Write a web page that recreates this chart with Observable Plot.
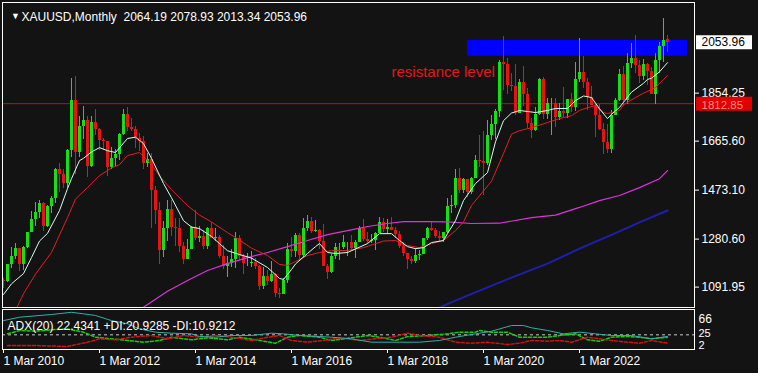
<!DOCTYPE html>
<html><head><meta charset="utf-8">
<script src="https://cdn.jsdelivr.net/npm/d3@7"></script>
<script src="https://cdn.jsdelivr.net/npm/@observablehq/plot@0.6"></script>
<style>
html,body{margin:0;padding:0;background:#131313;}
#chart{position:relative;width:758px;height:373px;background:#131313;overflow:hidden;}
#chart svg{position:absolute;left:0;}
</style></head><body><div id="chart"></div>
<script>
// ---------- DATA ----------
const symbolLabel = "XAUUSD,Monthly";
const firstMonth = "2010-03";
// Monthly candles Mar 2010 .. Jan 2024
const open = [1118,1113,1179,1213,1244,1181,1247,1307,1359,1386,
1421,1332,1409,1439,1556,1536,1500,1628,1826,1620,1722,1746,
1566,1738,1710,1669,1664,1561,1598,1615,1692,1772,1720,1713,
1675,1663,1578,1595,1472,1393,1234,1323,1396,1327,1323,1253,
1202,1240,1326,1284,1291,1250,1322,1283,1287,1211,1172,1183,
1199,1283,1213,1183,1183,1190,1172,1095,1133,1115,1142,1065,
1061,1118,1238,1233,1293,1215,1322,1351,1309,1316,1272,1173,
1151,1211,1249,1249,1268,1268,1242,1269,1322,1280,1271,1275,
1303,1345,1318,1325,1315,1299,1252,1224,1201,1192,1215,1222,
1282,1321,1313,1292,1283,1305,1409,1413,1520,1472,1513,1464,
1517,1589,1585,1577,1686,1730,1781,1975,1968,1886,1879,1776,
1895,1848,1734,1708,1769,1907,1770,1814,1814,1757,1783,1774,
1829,1797,1909,1937,1897,1837,1807,1766,1711,1660,1633,1768,
1824,1928,1827,1969,1990,1962,1919,1965,1940,1849,1983,2036,
2064.19];
const high = [1127,1181,1249,1265,1245,1250,1307,1388,1424,1431,
1424,1411,1448,1557,1577,1553,1632,1911,1920,1761,1803,1763,
1764,1791,1716,1677,1666,1641,1631,1695,1790,1796,1755,1724,
1695,1685,1617,1617,1488,1424,1348,1434,1434,1361,1361,1267,
1280,1332,1392,1331,1315,1326,1345,1323,1293,1256,1213,1238,
1307,1293,1219,1224,1232,1205,1175,1170,1157,1191,1144,1088,
1124,1263,1287,1304,1303,1362,1375,1367,1352,1318,1337,1180,
1220,1264,1262,1296,1269,1296,1274,1331,1357,1306,1299,1307,
1366,1362,1356,1366,1326,1309,1266,1224,1214,1243,1237,1284,
1326,1347,1324,1310,1306,1439,1453,1555,1557,1517,1516,1524,
1611,1689,1704,1748,1765,1789,1984,2075,1992,1933,1965,1906,
1959,1873,1755,1798,1913,1916,1834,1832,1834,1814,1877,1831,
1853,1974,2070,1998,1910,1879,1814,1808,1735,1730,1786,1833,
1949,1959,2009,2049,2079,1984,1987,1970,1953,2009,2052,2146,
2078.93];
const low = [1088,1111,1166,1199,1155,1157,1242,1307,1331,1360,
1309,1325,1381,1419,1462,1478,1480,1601,1535,1603,1672,1523,
1563,1688,1627,1627,1527,1556,1565,1589,1686,1702,1705,1636,
1626,1555,1562,1321,1338,1180,1208,1270,1292,1251,1226,1182,
1202,1238,1277,1268,1240,1241,1282,1273,1206,1161,1131,1170,
1167,1197,1142,1174,1170,1162,1077,1081,1098,1112,1052,1046,
1061,1108,1207,1207,1199,1207,1310,1302,1305,1241,1171,1123,
1146,1200,1195,1241,1214,1237,1205,1267,1271,1261,1265,1237,
1302,1307,1303,1314,1282,1245,1211,1160,1180,1183,1196,1221,
1276,1311,1281,1266,1267,1301,1382,1400,1459,1459,1445,1454,
1517,1563,1451,1568,1670,1671,1757,1863,1849,1860,1765,1775,
1803,1717,1677,1705,1766,1751,1751,1688,1721,1746,1758,1753,
1780,1783,1895,1872,1787,1805,1681,1709,1615,1617,1617,1765,
1823,1804,1809,1950,1932,1893,1903,1885,1849,1810,1931,1973,
2013.34];
const close = [1113,1179,1213,1244,1181,1247,1307,1359,1386,1421,
1332,1409,1439,1556,1536,1500,1628,1826,1620,1722,1746,1566,
1738,1710,1669,1664,1561,1598,1615,1692,1772,1720,1713,1675,
1663,1578,1595,1472,1393,1234,1323,1396,1327,1323,1253,1202,
1240,1326,1284,1291,1250,1322,1283,1287,1211,1172,1183,1199,
1283,1213,1183,1183,1190,1172,1095,1133,1115,1142,1065,1061,
1118,1238,1233,1293,1215,1322,1351,1309,1316,1272,1173,1151,
1211,1249,1249,1268,1268,1242,1269,1322,1280,1271,1275,1303,
1345,1318,1325,1315,1299,1252,1224,1201,1192,1215,1222,1282,
1321,1313,1292,1283,1305,1409,1413,1520,1472,1513,1464,1517,
1589,1585,1577,1686,1730,1781,1975,1968,1886,1879,1776,1895,
1848,1734,1708,1769,1907,1770,1814,1814,1757,1783,1774,1829,
1797,1909,1937,1897,1837,1807,1766,1711,1660,1633,1768,1824,
1928,1827,1969,1990,1962,1919,1965,1940,1849,1983,2036,2063,
2053.96];

// Moving averages [month, price]
const maFast = [["2010-03",1063],["2010-05",1105],["2010-08",1145],["2010-10",1208],["2010-12",1273],
["2011-02",1303],["2011-05",1393],["2011-07",1479],["2011-08",1518],["2011-10",1589],["2011-11",1598],
["2012-01",1623],["2012-03",1640],["2012-05",1628],["2012-07",1621],["2012-10",1676],["2012-12",1681],
["2013-02",1656],["2013-04",1598],["2013-07",1499],["2013-09",1443],["2013-12",1353],
["2014-02",1328],["2014-04",1322],["2014-07",1291],["2014-11",1235],
["2015-02",1220],["2015-05",1206],["2015-09",1169],["2015-12",1126],
["2016-01",1122],["2016-03",1161],["2016-04",1183],["2016-07",1224],["2016-09",1251],["2016-10",1263],["2016-12",1228],
["2017-02",1224],["2017-05",1228],["2017-10",1263],
["2018-01",1302],["2018-04",1302],["2018-06",1275],["2018-08",1251],["2018-10",1243],["2018-12",1247],
["2019-02",1267],["2019-05",1275],["2019-06",1302],["2019-08",1353],["2019-10",1432],
["2020-01",1499],["2020-04",1542],["2020-06",1663],["2020-08",1746],["2020-10",1776],["2020-12",1786],
["2021-04",1778],["2021-07",1786],["2021-09",1794],["2021-12",1794],
["2022-02",1825],["2022-04",1843],["2022-06",1837],["2022-08",1793],["2022-10",1754],["2022-11",1771],
["2023-01",1798],["2023-02",1818],["2023-04",1858],["2023-07",1893],["2023-08",1908],["2023-09",1913],["2023-11",1938],
["2024-01",1974]];
const maSlow = [["2010-06",1000],["2010-08",1066],["2010-11",1143],["2011-03",1228],["2011-07",1365],["2011-09",1438],["2011-12",1483],
["2012-03",1530],["2012-06",1560],["2012-08",1573],["2012-10",1609],["2013-01",1621],["2013-04",1575],["2013-06",1528],["2013-09",1475],
["2014-01",1412],["2014-04",1375],["2014-07",1348],["2014-11",1306],["2015-02",1277],["2015-05",1245],["2015-09",1216],["2015-12",1181],
["2016-02",1177],["2016-04",1193],["2016-07",1216],["2016-10",1228],["2017-01",1235],["2017-05",1236],["2017-09",1247],
["2018-02",1273],["2018-05",1275],["2018-07",1258],["2018-11",1247],["2019-02",1263],["2019-05",1275],["2019-08",1314],["2019-10",1348],["2019-12",1413],
["2020-05",1508],["2020-08",1617],["2020-10",1693],["2020-12",1707],["2021-03",1718],["2021-07",1739],["2021-10",1754],
["2022-01",1766],["2022-03",1786],["2022-05",1797],["2022-07",1805],["2022-09",1778],["2022-10",1774],
["2023-01",1786],["2023-02",1808],["2023-05",1837],["2023-07",1854],["2023-10",1876],["2024-01",1923]];
const ma100 = [["2013-01",998],["2013-02",1013],["2013-08",1076],["2014-01",1118],["2014-06",1157],["2014-11",1184],
["2015-04",1208],["2015-09",1228],["2016-02",1251],["2016-07",1275],["2016-12",1298],["2017-05",1314],["2017-10",1330],
["2018-03",1342],["2018-07",1349],["2019-01",1349],["2019-06",1348],["2019-12",1342],["2020-07",1343],["2021-03",1365],
["2021-09",1375],["2022-03",1405],["2022-08",1432],["2023-01",1452],["2023-06",1483],["2023-11",1518],["2024-01",1550]];
const ma200 = [["2019-02",998],["2019-08",1039],["2020-02",1078],["2020-10",1129],["2021-07",1184],["2022-03",1243],
["2022-11",1297],["2023-06",1346],["2024-01",1393]];

// ADX(20) panel
const adxLabel = "ADX(20) 22.4341 +DI:20.9285 -DI:10.9212";
const adxValues = [["2010-03",49],["2010-07",54.7],["2011-03",59.3],["2011-08",63],["2011-11",60.4],["2012-02",57.6],["2012-06",49],
["2012-10",43.6],["2013-01",35],["2013-05",29.5],["2013-09",27.8],["2014-02",26.7],["2014-04",22.2],["2014-08",21],["2014-12",23.9],
["2015-05",23.9],["2015-10",27.8],["2016-01",26.7],["2016-05",23.9],["2016-10",22.2],["2017-01",21],["2017-06",18.3],["2017-11",12.6],
["2018-06",12.6],["2018-11",12.6],["2019-04",15.5],["2019-08",21],["2020-01",26.7],["2020-05",31.1],["2020-10",40.7],["2021-01",40.7],
["2021-03",36.9],["2021-07",32.3],["2021-11",26.7],["2022-03",29.5],["2022-07",26.7],["2022-11",23.9],["2023-04",23.9],["2023-09",18.3],["2024-01",22.4]];
const plusDi = [["2010-04",26.7],["2010-07",32.3],["2010-11",31.1],["2011-03",33.5],["2011-07",35],["2011-11",29.5],["2012-02",21],
["2012-06",18.3],["2012-10",15.5],["2013-02",12.6],["2013-06",15.5],["2013-09",21],["2014-02",16.6],["2014-06",20],["2014-11",16.6],
["2015-02",21],["2015-07",15.5],["2015-11",10.9],["2016-02",21],["2016-05",23.9],["2016-10",21],["2017-01",15.5],["2017-06",20],
["2017-10",23.9],["2018-01",21],["2018-05",15.5],["2018-08",22],["2019-01",23.9],["2019-06",26.7],["2019-09",29.5],["2020-01",29.5],
["2020-02",32.3],["2020-05",29.5],["2020-09",29.5],["2020-12",21],["2021-03",21],["2021-07",21],["2021-10",23.9],["2022-02",26.7],
["2022-05",16.6],["2022-08",14.3],["2022-11",21],["2023-03",22.2],["2023-06",21],["2023-09",18.3],["2024-01",20.9]];
const minusDi = [["2010-04",7],["2010-11",7],["2011-07",5.4],["2011-12",12.6],["2012-03",18.3],["2012-07",16.6],["2012-11",21],
["2013-04",23.9],["2013-08",18.3],["2013-12",23.9],["2014-04",21],["2014-08",23.9],["2014-12",21],["2015-05",15.5],["2015-09",21],
["2015-12",23.9],["2016-03",15.5],["2016-07",12.6],["2016-11",15.5],["2017-03",20],["2017-08",15.5],["2018-01",19],["2018-04",21],
["2018-08",27.8],["2018-11",23.9],["2019-04",21],["2019-08",12.6],["2019-12",10.9],["2020-04",12.6],["2020-09",8.7],["2020-12",10.9],
["2021-03",15.5],["2021-07",14.3],["2021-10",15.5],["2022-01",12.6],["2022-05",21],["2022-08",18.3],["2022-11",15.5],["2023-03",12.6],
["2023-06",10.9],["2023-09",15.5],["2024-01",10.9]];
const adxLevel = 25;
const adxScaleTop = 66, adxScaleBottom = 2;

// axes / annotations
const tickMonths = ["2010-03","2012-03","2014-03","2016-03","2018-03","2020-03","2022-03"];
const tickLabels = ["1 Mar 2010","1 Mar 2012","1 Mar 2014","1 Mar 2016","1 Mar 2018","1 Mar 2020","1 Mar 2022"];
const priceTicks = [1854.25, 1665.60, 1473.10, 1280.60, 1091.95];
const resistanceLine = 1812.85;
const zoneStart = "2019-11", zoneEnd = "2024-06", zoneLow = 1999, zoneHigh = 2061;
const annotationText = "resistance level", annotationMonth = "2018-04", annotationPrice = 1938;

// ---------- HELPERS ----------
const [fy, fm] = firstMonth.split("-").map(Number);
const mi = s => { const [y, m] = s.split("-").map(Number); return (y - fy) * 12 + (m - fm); };
const candles = open.map((o, i) => ({i, o, h: high[i], l: low[i], c: close[i]}));
const upC = candles.filter(d => d.c >= d.o), dnC = candles.filter(d => d.c < d.o);
const last = candles[candles.length - 1];
const ohlcText = [last.o, last.h, last.l, last.c].map(v => v.toFixed(2)).join(" ");

const GREEN = "#14e014", RED = "#e81414";
const FONT = "Liberation Sans, Arial, sans-serif";
const xDom = [-0.25, 172.75], xRange = [2, 694];
const pt = d => ({x: mi(d[0]), y: d[1]});
const style = {background: "transparent", color: "#ffffff", fontFamily: FONT, fontSize: "12px", overflow: "visible"};

// ---------- MAIN PANEL ----------
const main = Plot.plot({
  width: 758, height: 309,
  marginLeft: 2, marginRight: 64, marginTop: 2, marginBottom: 2,
  x: {type: "linear", domain: xDom, range: xRange, axis: null},
  y: {type: "linear", domain: [1011.8, 2210.4], range: [307, 2], axis: null},
  style,
  marks: [
    Plot.rect([0], {x1: () => mi(zoneStart), x2: () => mi(zoneEnd), y1: () => zoneLow, y2: () => zoneHigh, fill: "#0000ff"}),
    Plot.ruleY([resistanceLine], {stroke: "#e00000", strokeWidth: 1}),
    Plot.ruleX(upC, {x: "i", y1: "l", y2: "h", stroke: GREEN, shapeRendering: "crispEdges"}),
    Plot.ruleX(dnC, {x: "i", y1: "l", y2: "h", stroke: RED, shapeRendering: "crispEdges"}),
    Plot.rect(upC, {x1: d => d.i - 0.375, x2: d => d.i + 0.375, y1: "o", y2: "c", fill: GREEN, shapeRendering: "crispEdges"}),
    Plot.rect(dnC, {x1: d => d.i - 0.375, x2: d => d.i + 0.375, y1: "c", y2: "o", fill: RED, shapeRendering: "crispEdges"}),
    Plot.line(ma200.map(pt), {x: "x", y: "y", stroke: "#1f1fae", strokeWidth: 2, clip: true}),
    Plot.line(ma100.map(pt), {x: "x", y: "y", stroke: "#dd33dd", strokeWidth: 1.2, clip: true}),
    Plot.line(maSlow.map(pt), {x: "x", y: "y", stroke: "#e02020", strokeWidth: 1, clip: true}),
    Plot.line(maFast.map(pt), {x: "x", y: "y", stroke: "#d4fff0", strokeWidth: 1, clip: true}),
    Plot.text([annotationText], {x: () => mi(annotationMonth), y: () => annotationPrice, text: d => d, textAnchor: "start", fill: "#e01818", fontSize: 15, fontFamily: FONT}),
    Plot.frame({stroke: "#ffffff"}),
    Plot.axisY(priceTicks, {anchor: "right", label: null, tickSize: 4, tickPadding: 3, tickFormat: d => d.toFixed(2), fontSize: 12, stroke: "#fff", fill: "#fff"}),
    Plot.ruleY([last.c], {x1: 173.25, x2: 187.25, stroke: "#ffffff", strokeWidth: 14}),
    Plot.text([last.c], {x: 173.25, y: d => d, dx: 5, text: d => d.toFixed(2), textAnchor: "start", fill: "#000000", fontSize: 12}),
    Plot.ruleY([resistanceLine], {x1: 173.25, x2: 187.25, stroke: "#e00000", strokeWidth: 14}),
    Plot.text([resistanceLine], {x: 173.25, y: d => d, dx: 5, dy: 1.5, text: d => d.toFixed(2), textAnchor: "start", fill: "#ff8a8a", fontSize: 11.5}),
    Plot.text(["\u25BC"], {frameAnchor: "top-left", dx: 8.5, dy: 10, fontSize: 9, fill: "#fff", text: d => d}),
    Plot.text([symbolLabel], {frameAnchor: "top-left", dx: 19, dy: 10, textAnchor: "start", fill: "#fff", fontSize: 12, text: d => d}),
    Plot.text([ohlcText], {frameAnchor: "top-left", dx: 121, dy: 10, textAnchor: "start", fill: "#fff", fontSize: 12, text: d => d})
  ]
});
main.style.top = "0px";

// ---------- ADX PANEL ----------
const tickIdx = tickMonths.map(mi);
const adx = Plot.plot({
  width: 758, height: 66,
  marginLeft: 2, marginRight: 64, marginTop: 2, marginBottom: 24,
  x: {type: "linear", domain: xDom, range: xRange, axis: null},
  y: {type: "linear", domain: [0.3, 67.7], range: [42, 2], axis: null},
  style,
  marks: [
    Plot.ruleY([adxLevel], {stroke: "#c8c8c8", strokeDasharray: "3,3"}),
    Plot.line(plusDi.map(pt), {x: "x", y: "y", stroke: "#10d010", strokeDasharray: "3,2", clip: true}),
    Plot.line(minusDi.map(pt), {x: "x", y: "y", stroke: "#d81010", strokeDasharray: "3,2", clip: true}),
    Plot.line(adxValues.map(pt), {x: "x", y: "y", stroke: "#2fb0a8", strokeWidth: 1, clip: true}),
    Plot.frame({stroke: "#ffffff"}),
    Plot.axisX(tickIdx, {anchor: "bottom", label: null, tickSize: 4, tickPadding: 3, textAnchor: "start",
      tickFormat: d => tickLabels[tickIdx.indexOf(d)], fontSize: 12, stroke: "#fff", fill: "#fff"}),
    Plot.text([adxLabel], {frameAnchor: "top-left", dx: 5, dy: 12, textAnchor: "start", fill: "#fff", fontSize: 12, text: d => d}),
    Plot.text([adxScaleTop], {x: () => xDom[1], y: d => d, dx: 4, dy: 9, textAnchor: "start", fill: "#fff", fontSize: 12, text: d => String(d)}),
    Plot.text([adxLevel], {x: () => xDom[1], y: d => d, dx: 4, dy: -1.5, textAnchor: "start", fill: "#fff", fontSize: 11, text: d => String(d)}),
    Plot.text([adxScaleBottom], {x: () => xDom[1], y: d => d, dx: 4, dy: -3.5, textAnchor: "start", fill: "#fff", fontSize: 11, text: d => String(d)})
  ]
});
adx.style.top = "307px";

const chart = document.getElementById("chart");
chart.appendChild(main);
chart.appendChild(adx);
</script>
</body></html>
